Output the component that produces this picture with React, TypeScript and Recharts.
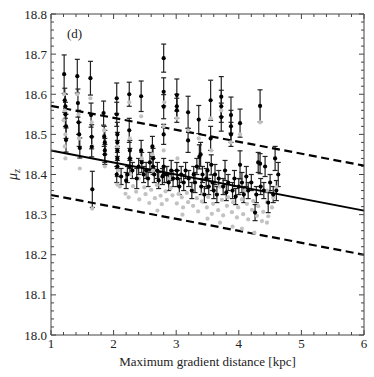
import { ScatterChart, Scatter, XAxis, YAxis, ErrorBar, ReferenceLine } from "recharts";

// black points (with error bars)
const blackX = [
  1.21, 1.42, 1.63, 2.05, 2.25, 2.44, 2.8, 3.01, 3.19, 3.36, 3.55, 3.72, 3.875, 4.02, 4.34,
  1.22, 1.23, 1.23, 1.24, 1.24, 1.43, 1.44, 1.45, 1.46, 1.64, 1.65, 1.65, 1.66,
  1.84, 1.85, 1.86, 1.86, 1.86, 2.05, 2.06, 2.06, 2.06, 2.06, 2.06,
  2.25, 2.26, 2.26, 2.26, 2.44, 2.45, 2.62, 2.63, 2.63,
  2.8, 2.8, 2.8, 2.8, 2.81, 3.01, 3.01, 3.01, 3.02, 3.19, 3.37, 3.39, 3.55, 3.56,
  3.72, 3.72, 3.875, 3.875, 4.02, 4.34,
  2.05, 2.12, 2.2, 2.22, 2.3, 2.37, 2.4, 2.48, 2.52, 2.55, 2.58, 2.65, 2.7, 2.72, 2.78,
  2.85, 2.88, 2.92, 2.95, 3.05, 3.08, 3.12, 3.15, 3.2, 3.25, 3.28, 3.3, 3.33, 3.4, 3.42,
  3.45, 3.48, 3.5, 3.52, 3.58, 3.6, 3.62, 3.65, 3.68, 3.75, 3.78, 3.8, 3.83, 3.9, 3.93,
  3.95, 4.0, 4.05, 4.08, 4.12, 4.15, 4.2, 4.26, 4.28, 4.31, 4.35, 4.4, 4.42, 4.47, 4.5,
  4.55, 4.58, 4.63, 4.6,
];
const blackY = [
  18.65, 18.645, 18.64, 18.59, 18.6, 18.595, 18.69, 18.598, 18.555, 18.537, 18.585, 18.594, 18.548, 18.528, 18.571,
  18.585, 18.57, 18.55, 18.52, 18.486, 18.578, 18.53, 18.5, 18.466, 18.548, 18.494, 18.469, 18.363,
  18.553, 18.495, 18.48, 18.46, 18.45, 18.55, 18.5, 18.48, 18.46, 18.44, 18.42,
  18.51, 18.46, 18.44, 18.42, 18.46, 18.43, 18.47, 18.44, 18.42,
  18.606, 18.569, 18.5, 18.42, 18.4, 18.57, 18.56, 18.41, 18.39, 18.485, 18.444, 18.45, 18.49, 18.424,
  18.57, 18.543, 18.52, 18.5, 18.424, 18.427,
  18.4, 18.395, 18.385, 18.4, 18.41, 18.39, 18.42, 18.4, 18.41, 18.39, 18.43, 18.4, 18.41, 18.385, 18.395,
  18.4, 18.38, 18.41, 18.39, 18.37, 18.4, 18.38, 18.41, 18.39, 18.36, 18.4, 18.38, 18.42, 18.37, 18.4,
  18.35, 18.39, 18.41, 18.37, 18.38, 18.36, 18.4, 18.35, 18.39, 18.37, 18.41, 18.355, 18.38, 18.36, 18.39,
  18.345, 18.37, 18.38, 18.35, 18.395, 18.36, 18.38, 18.305, 18.35, 18.43, 18.37, 18.36, 18.42, 18.33, 18.38,
  18.35, 18.44, 18.4, 18.36,
];
const blackErr = [
  0.048, 0.042, 0.042, 0.038, 0.03, 0.038, 0.035, 0.04, 0.04, 0.035, 0.05, 0.05, 0.045, 0.035, 0.04,
  0.03, 0.03, 0.03, 0.03, 0.03, 0.035, 0.03, 0.03, 0.025, 0.03, 0.03, 0.025, 0.045,
  0.03, 0.025, 0.03, 0.03, 0.025, 0.03, 0.03, 0.025, 0.025, 0.025, 0.025,
  0.03, 0.025, 0.025, 0.02, 0.025, 0.025, 0.025, 0.025, 0.02,
  0.035, 0.03, 0.025, 0.02, 0.02, 0.03, 0.03, 0.02, 0.02, 0.03, 0.03, 0.03, 0.03, 0.025,
  0.04, 0.035, 0.04, 0.03, 0.035, 0.025,
  0.02, 0.02, 0.02, 0.02, 0.02, 0.025, 0.02, 0.02, 0.02, 0.02, 0.025, 0.02, 0.02, 0.02, 0.02,
  0.02, 0.02, 0.025, 0.02, 0.02, 0.02, 0.02, 0.02, 0.02, 0.02, 0.02, 0.025, 0.02, 0.02, 0.02,
  0.02, 0.025, 0.02, 0.02, 0.02, 0.02, 0.025, 0.02, 0.02, 0.02, 0.025, 0.02, 0.02, 0.02, 0.02,
  0.02, 0.02, 0.025, 0.02, 0.025, 0.02, 0.02, 0.02, 0.02, 0.025, 0.02, 0.02, 0.025, 0.025, 0.02,
  0.02, 0.03, 0.03, 0.025,
];

// grey points
const greyX = [
  1.21, 1.22, 1.2, 1.23, 1.22, 1.23, 1.42, 1.44, 1.45, 1.46, 1.63, 1.65, 1.66, 1.66,
  1.85, 1.86, 1.86, 2.05, 2.06, 2.07, 2.06, 2.25, 2.26, 2.27, 2.44, 2.45, 2.62, 2.63,
  2.8, 2.8, 2.81, 3.01, 3.02, 3.19, 3.36, 3.55, 3.56, 3.72, 3.87, 4.02, 4.34,
  2.1, 2.19, 2.24, 2.31, 2.36, 2.41, 2.49, 2.51, 2.57, 2.6, 2.66, 2.69, 2.75, 2.77, 2.83,
  2.85, 2.91, 2.94, 3.01, 3.04, 3.09, 3.11, 3.17, 3.19, 3.25, 3.27, 3.33, 3.35, 3.41, 3.43,
  3.49, 3.51, 3.57, 3.59, 3.65, 3.67, 3.73, 3.75, 3.81, 3.83, 3.89, 3.91, 3.97, 3.99, 4.05,
  4.07, 4.13, 4.15, 4.21, 4.23, 4.29, 4.31, 4.37, 4.39, 4.45, 4.47, 4.53, 4.55, 4.6,
  2.4, 2.9, 3.3, 3.7, 4.1, 4.45, 3.9, 4.05, 4.25, 3.7, 4.45, 3.1, 3.5, 2.7,
];
const greyY = [
  18.6, 18.56, 18.535, 18.5, 18.47, 18.44, 18.6, 18.55, 18.49, 18.415, 18.59, 18.53, 18.47, 18.315,
  18.51, 18.45, 18.42, 18.55, 18.47, 18.41, 18.375, 18.58, 18.49, 18.4, 18.545, 18.44, 18.45, 18.41,
  18.52, 18.46, 18.58, 18.54, 18.44, 18.51, 18.49, 18.54, 18.46, 18.56, 18.48, 18.5, 18.53,
  18.37, 18.352, 18.343, 18.371, 18.357, 18.338, 18.368, 18.351, 18.329, 18.362, 18.341, 18.374, 18.347, 18.326, 18.358,
  18.337, 18.366, 18.348, 18.328, 18.352, 18.343, 18.318, 18.354, 18.331, 18.362, 18.322, 18.341, 18.308, 18.333, 18.352,
  18.318, 18.344, 18.302, 18.327, 18.351, 18.311, 18.337, 18.298, 18.322, 18.343, 18.306, 18.331, 18.293, 18.318, 18.338,
  18.301, 18.327, 18.288, 18.312, 18.334, 18.297, 18.321, 18.284, 18.307, 18.331, 18.296, 18.318, 18.342, 18.368,
  18.39, 18.39, 18.38, 18.37, 18.36, 18.36, 18.27, 18.265, 18.255, 18.28, 18.28, 18.3, 18.29, 18.31,
];

// fit line and its bounds
const fitX = [1, 6];
const fitY = [18.46, 18.31];
const upperY = [18.571, 18.422];
const lowerY = [18.349, 18.2];

const xTicks = [1, 1.2, 1.4, 1.6, 1.8, 2, 2.2, 2.4, 2.6, 2.8, 3, 3.2, 3.4, 3.6, 3.8, 4, 4.2, 4.4, 4.6, 4.8, 5, 5.2, 5.4, 5.6, 5.8, 6];
const yTicks = [
  18, 18.02, 18.04, 18.06, 18.08, 18.1, 18.12, 18.14, 18.16, 18.18, 18.2, 18.22, 18.24, 18.26, 18.28,
  18.3, 18.32, 18.34, 18.36, 18.38, 18.4, 18.42, 18.44, 18.46, 18.48, 18.5, 18.52, 18.54, 18.56, 18.58,
  18.6, 18.62, 18.64, 18.66, 18.68, 18.7, 18.72, 18.74, 18.76, 18.78, 18.8,
];

const blackData = blackX.map((x, i) => ({ x, y: blackY[i], err: blackErr[i] }));
const greyData = greyX.map((x, i) => ({ x, y: greyY[i] }));

const FONT = "'Liberation Serif', 'DejaVu Serif', serif";
const AXIS = "#444";

const isMajorX = (v: number) => Math.abs(v - Math.round(v)) < 1e-6;
const isMajorY = (v: number) => Math.abs(v * 10 - Math.round(v * 10)) < 1e-6;

const BottomTick = ({ x, y, payload }: any) => {
  const major = isMajorX(payload.value);
  return (
    <g>
      <line x1={x} x2={x} y1={y} y2={y - (major ? 5 : 3)} stroke={AXIS} />
      {major && (
        <text x={x} y={y + 13} textAnchor="middle" fontFamily={FONT} fontSize={13} fill="#222">
          {payload.value}
        </text>
      )}
    </g>
  );
};

const TopTick = ({ x, y, payload }: any) => {
  const major = isMajorX(payload.value);
  return <line x1={x} x2={x} y1={y} y2={y + (major ? 5 : 3)} stroke={AXIS} />;
};

const LeftTick = ({ x, y, payload }: any) => {
  const major = isMajorY(payload.value);
  return (
    <g>
      <line x1={x} x2={x + (major ? 5 : 3)} y1={y} y2={y} stroke={AXIS} />
      {major && (
        <text x={x - 4} y={y + 4.5} textAnchor="end" fontFamily={FONT} fontSize={13} fill="#222">
          {payload.value.toFixed(1)}
        </text>
      )}
    </g>
  );
};

const RightTick = ({ x, y, payload }: any) => {
  const major = isMajorY(payload.value);
  return <line x1={x} x2={x - (major ? 5 : 3)} y1={y} y2={y} stroke={AXIS} />;
};

const BlackDot = ({ cx, cy }: any) => <circle cx={cx} cy={cy} r={2.1} fill="#000" />;
const GreyDot = ({ cx, cy }: any) => <circle cx={cx} cy={cy} r={2.1} fill="#c2c2c2" />;

export default function App() {
  return (
    <div style={{ position: "absolute", left: 0, top: 0 }}>
      <ScatterChart width={374} height={377} margin={{ top: 0, right: 0, bottom: 0, left: 0 }}>
        <XAxis
          xAxisId="b"
          dataKey="x"
          type="number"
          domain={[1, 6]}
          ticks={xTicks}
          interval={0}
          height={42}
          tickSize={0}
          tickMargin={0}
          tickLine={false}
          tick={<BottomTick />}
          axisLine={{ stroke: AXIS }}
          allowDataOverflow
          label={() => (
            <text x={207.5} y={366} textAnchor="middle" fontFamily={FONT} fontSize={13} fill="#222">
              Maximum gradient distance [kpc]
            </text>
          )}
        />
        <XAxis
          xAxisId="t"
          orientation="top"
          dataKey="x"
          type="number"
          domain={[1, 6]}
          ticks={xTicks}
          interval={0}
          height={14}
          tickSize={0}
          tickMargin={0}
          tickLine={false}
          tick={<TopTick />}
          axisLine={{ stroke: AXIS }}
          allowDataOverflow
          label={() => (
            <text x={67} y={38} fontFamily={FONT} fontSize={13} fill="#222">
              (d)
            </text>
          )}
        />
        <YAxis
          yAxisId="l"
          dataKey="y"
          type="number"
          domain={[18, 18.8]}
          ticks={yTicks}
          interval={0}
          width={51}
          tickSize={0}
          tickMargin={0}
          tickLine={false}
          tick={<LeftTick />}
          axisLine={{ stroke: AXIS }}
          allowDataOverflow
          label={() => (
            <text
              x={17}
              y={174.5}
              transform="rotate(-90 17 174.5)"
              textAnchor="middle"
              fontFamily={FONT}
              fontSize={14}
              fontStyle="italic"
              fill="#222"
            >
              μ<tspan fontSize={10} dy={3}>z</tspan>
            </text>
          )}
        />
        <YAxis
          yAxisId="r"
          orientation="right"
          dataKey="y"
          type="number"
          domain={[18, 18.8]}
          ticks={yTicks}
          interval={0}
          width={10}
          tickSize={0}
          tickMargin={0}
          tickLine={false}
          tick={<RightTick />}
          axisLine={{ stroke: AXIS }}
          allowDataOverflow
        />
        <Scatter xAxisId="b" yAxisId="l" data={greyData} shape={<GreyDot />} isAnimationActive={false} />
        <Scatter xAxisId="b" yAxisId="l" data={blackData} shape={<BlackDot />} isAnimationActive={false}>
          <ErrorBar dataKey="err" direction="y" width={2.5} stroke="#222" strokeWidth={1.2} isAnimationActive={false} />
        </Scatter>
        <ReferenceLine
          xAxisId="b"
          yAxisId="l"
          segment={[{ x: fitX[0], y: fitY[0] }, { x: fitX[1], y: fitY[1] }]}
          stroke="#000"
          strokeWidth={2}
        />
        <ReferenceLine
          xAxisId="b"
          yAxisId="l"
          segment={[{ x: fitX[0], y: upperY[0] }, { x: fitX[1], y: upperY[1] }]}
          stroke="#000"
          strokeWidth={2.2}
          strokeDasharray="8 4.5"
        />
        <ReferenceLine
          xAxisId="b"
          yAxisId="l"
          segment={[{ x: fitX[0], y: lowerY[0] }, { x: fitX[1], y: lowerY[1] }]}
          stroke="#000"
          strokeWidth={2.2}
          strokeDasharray="8 4.5"
        />
      </ScatterChart>
    </div>
  );
}
